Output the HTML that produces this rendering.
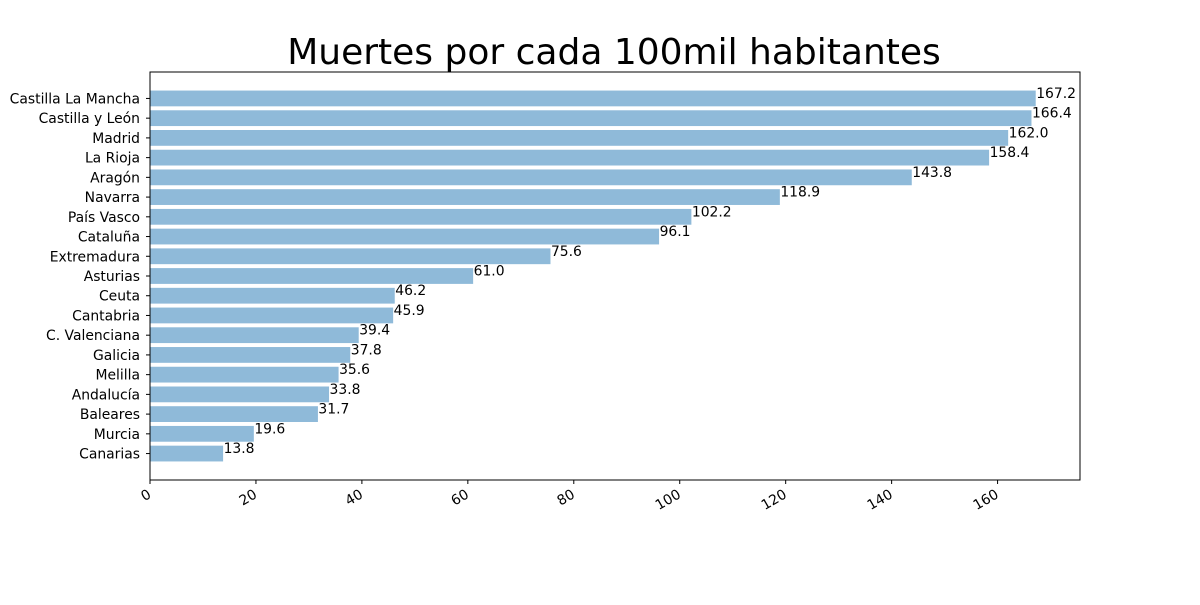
<!DOCTYPE html>
<html><head><meta charset="utf-8"><style>
body{margin:0;background:#fff;}
svg{font-family:"DejaVu Sans","Liberation Sans",sans-serif;}
</style></head><body>
<svg id="chart" width="1200" height="600">
<rect width="1200" height="600" fill="#fff"/>
<text x="614" y="64" text-anchor="middle" font-size="36">Muertes por cada 100mil habitantes</text>
<g id="plot"></g>
</svg>
<script>
const categories=["Castilla La Mancha","Castilla y León","Madrid","La Rioja","Aragón","Navarra","País Vasco","Cataluña","Extremadura","Asturias","Ceuta","Cantabria","C. Valenciana","Galicia","Melilla","Andalucía","Baleares","Murcia","Canarias"];
const values=[167.2,166.4,162.0,158.4,143.8,118.9,102.2,96.1,75.6,61.0,46.2,45.9,39.4,37.8,35.6,33.8,31.7,19.6,13.8];
const xTicks=[0,20,40,60,80,100,120,140,160];
const ns="http://www.w3.org/2000/svg";
const g=document.getElementById('plot');
const L=150,R=1080,T=72,B=480;
const xmax=Math.max(...values)*1.05;
const xs=v=>L+v/xmax*(R-L);
const n=categories.length;
const lo=-0.4-0.05*(n-1+0.8), hi=n-1+0.4+0.05*(n-1+0.8);
const ys=i=>T+(i-lo)/(hi-lo)*(B-T);
const FS=13.9;
function mk(tag,attrs,txt){const e=document.createElementNS(ns,tag);for(const k in attrs)e.setAttribute(k,attrs[k]);if(txt!==undefined)e.textContent=txt;g.appendChild(e);return e;}
categories.forEach((c,i)=>{
  const y=ys(i),h=(ys(0.8)-ys(0));
  const r=mk('rect',{x:xs(0),y:y-h/2,width:xs(values[i])-xs(0),height:h,fill:'#8fbad9'});
  
  
  const t=mk('text',{x:xs(values[i])+0.5,y:y-0.5,'font-size':FS},values[i].toFixed(1));
  
  
  mk('line',{x1:L-4,x2:L,y1:y,y2:y,stroke:'#000'});
  const yl=mk('text',{x:L-10,y:y+5,'font-size':FS,'text-anchor':'end'},c);
  
  
});
xTicks.forEach(v=>{
  const x=xs(v);
  mk('line',{x1:x,x2:x,y1:B,y2:B+4,stroke:'#000'});
  const ax=x+2, ay=B+17;
  const t=mk('text',{x:ax,y:ay,'font-size':FS,'text-anchor':'end',transform:`rotate(-30 ${ax} ${ay})`},String(v));
  
  
});
const f=mk('rect',{x:L,y:T,width:R-L,height:B-T,fill:'none',stroke:'#000','stroke-width':1});


</script>
</body></html>
